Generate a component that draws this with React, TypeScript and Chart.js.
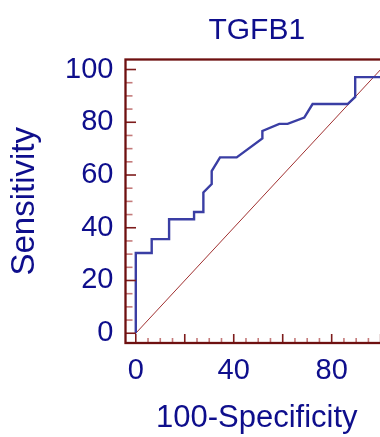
import { useEffect, useRef } from 'react';
import { Chart, registerables } from 'chart.js';

Chart.register(...registerables);

const chartTitle = 'TGFB1';
const xAxisTitle = '100-Specificity';
const yAxisTitle = 'Sensitivity';

// ROC curve points (100-Specificity, Sensitivity)
const rocFpr = [0, 0, 6.5, 6.5, 13.6, 13.6, 23.8, 23.8, 27.6, 27.6, 31, 31, 34.4, 41.2, 51.7, 51.7, 58.6, 62, 68.8, 72.2, 86.5, 89.6, 89.6, 100];
const rocTpr = [0, 30.4, 30.4, 35.7, 35.7, 43.2, 43.2, 46, 46, 53.4, 56.6, 61.5, 66.7, 66.7, 73.9, 76.7, 79.4, 79.4, 81.8, 86.9, 86.9, 89.6, 97.1, 97.1];

// reference diagonal
const refX = [0, 100];
const refY = [0, 100];

const xTickLabels = [0, 40, 80];
const yTickLabels = [0, 20, 40, 60, 80, 100];
const xMajorTicks = [0, 20, 40, 60, 80, 100];
const yMajorTicks = [0, 20, 40, 60, 80, 100];
const minorTickStep = 5;
const tickRange = [0, 100];

const FONT = '"Liberation Sans", Arial, Helvetica, sans-serif';
const TEXT = '#0e0e8c';
const CURVE = '#3a3ea4';
const FRAME = '#6e1010';
const DIAG = '#a03030';
const MAJOR = '#7e1c1c';
const MINOR = '#c47a7a';

const frameTicks = {
  id: 'frameTicks',
  afterDatasetsDraw(chart: any) {
    const { ctx, chartArea: a, scales } = chart;
    const x = scales.x;
    const y = scales.y;
    ctx.save();
    ctx.lineWidth = 1.6;
    for (let v = tickRange[0]; v <= tickRange[1]; v += minorTickStep) {
      const major = xMajorTicks.includes(v);
      const px = x.getPixelForValue(v);
      ctx.strokeStyle = major ? MAJOR : MINOR;
      ctx.beginPath();
      ctx.moveTo(px, a.bottom);
      ctx.lineTo(px, a.bottom - (major ? 9 : 5));
      ctx.stroke();
    }
    for (let v = tickRange[0]; v <= tickRange[1]; v += minorTickStep) {
      const major = yMajorTicks.includes(v);
      const py = y.getPixelForValue(v);
      ctx.strokeStyle = major ? MAJOR : MINOR;
      ctx.beginPath();
      ctx.moveTo(a.left, py);
      ctx.lineTo(a.left + (major ? 10.5 : 7), py);
      ctx.stroke();
    }
    ctx.strokeStyle = FRAME;
    ctx.lineWidth = 2.3;
    ctx.strokeRect(a.left, a.top, a.right - a.left, a.bottom - a.top);
    ctx.restore();
  },
};

export default function App() {
  const ref = useRef<HTMLCanvasElement | null>(null);

  useEffect(() => {
    if (!ref.current) return;
    const chart = new Chart(ref.current, {
      type: 'scatter',
      data: {
        datasets: [
          {
            data: refX.map((v, i) => ({ x: v, y: refY[i] })),
            showLine: true,
            borderColor: DIAG,
            borderWidth: 1,
            pointRadius: 0,
            order: 2,
          },
          {
            data: rocFpr.map((v, i) => ({ x: v, y: rocTpr[i] })),
            showLine: true,
            borderColor: CURVE,
            borderWidth: 2.4,
            pointRadius: 0,
            tension: 0,
            order: 1,
          },
        ],
      },
      options: {
        animation: false,
        responsive: false,
        maintainAspectRatio: false,
        layout: { padding: { left: 0, right: 12, top: 0, bottom: 0 } },
        plugins: {
          legend: { display: false },
          tooltip: { enabled: false },
          title: {
            display: true,
            fullSize: false,
            text: chartTitle,
            color: TEXT,
            font: { family: FONT, size: 30, weight: 'normal', lineHeight: 1.2 },
            padding: { top: 12.5, bottom: 11 },
          },
        },
        scales: {
          x: {
            type: 'linear',
            min: -4.2,
            max: 103,
            grid: { display: false, drawTicks: false },
            border: { display: false },
            ticks: {
              color: TEXT,
              font: { family: FONT, size: 29 },
              padding: 11,
              maxRotation: 0,
              autoSkip: false,
            },
            afterBuildTicks: (s: any) => {
              s.ticks = xTickLabels.map((value) => ({ value }));
            },
            afterFit: (s: any) => {
              s.height = 94;
            },
            title: {
              display: true,
              text: xAxisTitle,
              color: TEXT,
              font: { family: FONT, size: 31, lineHeight: 1.2 },
              padding: { top: 0, bottom: 0 },
            },
          },
          y: {
            type: 'linear',
            min: -3.7,
            max: 103.8,
            grid: { display: false, drawTicks: false },
            border: { display: false },
            ticks: {
              color: TEXT,
              font: { family: FONT, size: 29 },
              padding: 12,
              autoSkip: false,
            },
            afterBuildTicks: (s: any) => {
              s.ticks = yTickLabels.map((value) => ({ value }));
            },
            afterFit: (s: any) => {
              s.width = 125.5;
            },
            title: {
              display: true,
              text: yAxisTitle,
              color: TEXT,
              font: { family: FONT, size: 33, lineHeight: 1.2 },
              padding: { top: 5, bottom: 0 },
            },
          },
        },
      },
      plugins: [frameTicks],
    });
    return () => chart.destroy();
  }, []);

  return (
    <div style={{ position: 'fixed', left: 0, top: 0, width: 380, height: 437, overflow: 'hidden', background: '#fff' }}>
      <canvas ref={ref} width={400} height={437} style={{ display: 'block' }} />
    </div>
  );
}
